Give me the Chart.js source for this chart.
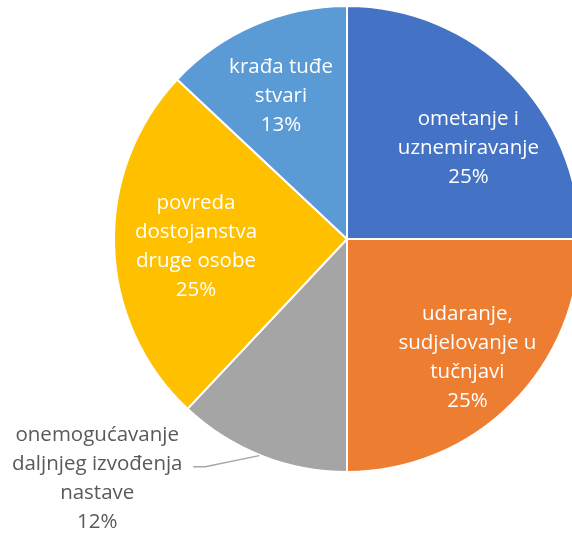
<!DOCTYPE html>
<html>
<head>
<meta charset="utf-8">
<script src="https://cdn.jsdelivr.net/npm/chart.js@4.4.1/dist/chart.umd.min.js"></script>
<style>
  html, body { margin: 0; padding: 0; background: #fff; overflow: hidden; }
  #wrap { width: 694px; height: 534px; }
</style>
</head>
<body>
<div id="wrap"><canvas id="myChart" width="694" height="534"></canvas></div>
<script>
const categories = [
    ['ometanje i', 'uznemiravanje'],
    ['udaranje,', 'sudjelovanje u', 'tučnjavi'],
    ['onemogućavanje', 'daljnjeg izvođenja', 'nastave'],
    ['povreda', 'dostojanstva', 'druge osobe'],
    ['krađa tuđe', 'stvari']
];
const shares = [25, 25, 12, 25, 13];
const percentLabels = ['25%', '25%', '12%', '25%', '13%'];
const sliceColors = ['#4472C4', '#ED7D31', '#A5A5A5', '#FFC000', '#5B9BD5'];
// which labels sit outside the pie with a leader line
const outside = [false, false, true, false, false];
// small hand nudges of the inside labels, like Excel's own placement
const labelNudge = [[11, 20], [10, 8], [0, 0], [5, 3], [-4, 0]];

const labelFont = '20.5px "Open Sans"';
const lineHeight = 29;

const sliceLabels = {
    id: 'sliceLabels',
    afterDatasetsDraw(chart) {
        const ctx = chart.ctx;
        const meta = chart.getDatasetMeta(0);
        ctx.save();
        ctx.font = labelFont;
        ctx.textAlign = 'center';
        ctx.textBaseline = 'middle';
        meta.data.forEach((arc, i) => {
            const p = arc.getProps(['x', 'y', 'startAngle', 'endAngle', 'outerRadius'], true);
            const mid = (p.startAngle + p.endAngle) / 2;
            const lines = categories[i].concat([percentLabels[i]]);
            let cx, cy;
            if (outside[i]) {
                const ex = p.x + Math.cos(mid) * p.outerRadius;
                const ey = p.y + Math.sin(mid) * p.outerRadius;
                cx = ex - 164;
                cy = ey + 23;
                ctx.strokeStyle = '#A6A6A6';
                ctx.lineWidth = 1.5;
                ctx.beginPath();
                ctx.moveTo(ex - 2, ey);
                ctx.lineTo(cx + 108, cy - 12);
                ctx.lineTo(cx + 96, cy - 12);
                ctx.stroke();
                ctx.fillStyle = '#595959';
            } else {
                const d = p.outerRadius * 0.67;
                cx = p.x + Math.cos(mid) * d + labelNudge[i][0];
                cy = p.y + Math.sin(mid) * d + labelNudge[i][1];
                ctx.fillStyle = '#FFFFFF';
            }
            const top = cy - (lines.length - 1) * lineHeight / 2;
            lines.forEach((t, k) => ctx.fillText(t, cx, top + k * lineHeight));
        });
        ctx.restore();
    }
};

new Chart(document.getElementById('myChart'), {
    type: 'pie',
    data: {
        labels: categories.map(c => c.join(' ')),
        datasets: [{
            data: shares,
            backgroundColor: sliceColors,
            borderColor: '#FFFFFF',
            borderWidth: 2
        }]
    },
    options: {
        responsive: false,
        animation: false,
        layout: { padding: { top: 5, bottom: 61, left: 0, right: 0 } },
        plugins: {
            legend: { display: false },
            tooltip: { enabled: false }
        }
    },
    plugins: [sliceLabels]
});
</script>
</body>
</html>
